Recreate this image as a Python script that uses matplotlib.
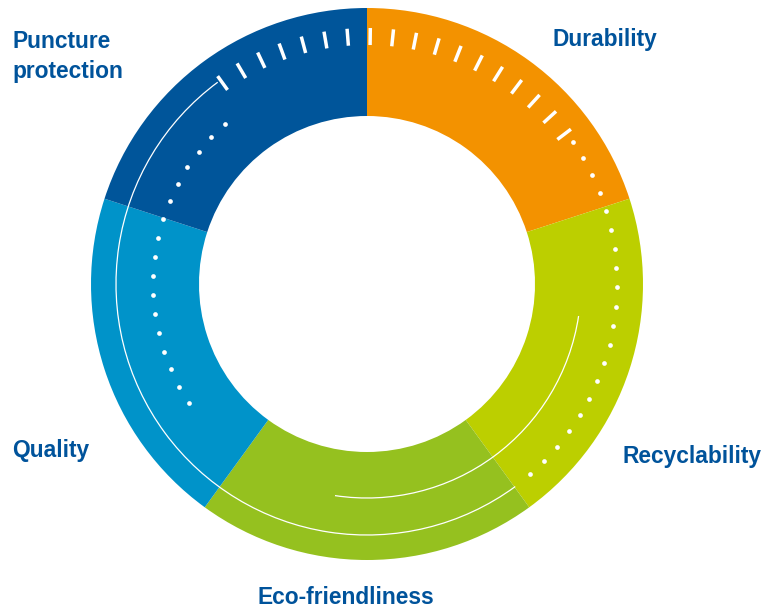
import numpy as np
import matplotlib.pyplot as plt
from matplotlib.patches import Arc

# categories in clockwise order starting at 12 o'clock
categories = ['Durability', 'Recyclability', 'Eco-friendliness', 'Quality', 'Puncture protection']
shares = [1, 1, 1, 1, 1]
seg_colors = ['#F39200', '#BCCF00', '#95C11F', '#0093C9', '#00559A']

TEXT_COLOR = '#00539B'
W, H = 769, 608
CX, CY = 367, H - 284          # ring centre in pixel units (y up)
R_OUT, R_IN = 276, 168

fig = plt.figure(figsize=(W / 100, H / 100), dpi=100)
ax = fig.add_axes([0, 0, 1, 1])

ax.pie(shares, colors=seg_colors, startangle=90, counterclock=False,
       center=(CX, CY), radius=R_OUT,
       wedgeprops=dict(width=R_OUT - R_IN, linewidth=0, antialiased=True))
ax.set_xlim(0, W)
ax.set_ylim(0, H)
ax.set_aspect('equal')
ax.axis('off')


def polar(r, deg):
    t = np.radians(deg)
    return CX + r * np.cos(t), CY + r * np.sin(t)


# white tick marks across the top
for a in np.linspace(125.7, 37.2, 18):
    x0, y0 = polar(239, a)
    x1, y1 = polar(256, a)
    ax.plot([x0, x1], [y0, y1], color='white', lw=2.5, solid_capstyle='butt', zorder=3)

# outer dotted track on the right
xs, ys = polar(250, np.linspace(34.6, -49.4, 20))
ax.plot(xs, ys, 'o', color='white', ms=3.4, mew=0, zorder=3)

# inner dotted track on the left
xs, ys = polar(214, np.linspace(131.6, 213.8, 17))
ax.plot(xs, ys, 'o', color='white', ms=3.4, mew=0, zorder=3)

# thin white arcs
ax.add_patch(Arc((CX, CY), 2 * 251, 2 * 251, theta1=126.5, theta2=306.2,
                 color='white', lw=0.9, zorder=3))
ax.add_patch(Arc((CX, CY), 2 * 214, 2 * 214, theta1=261.4, theta2=351.4,
                 color='white', lw=0.9, zorder=3))

# labels: (x, baseline y from top, horizontal alignment)
label_pos = {
    'Durability': (552, 46, 'left'),
    'Recyclability': (622, 463, 'left'),
    'Eco-friendliness': (346, 604, 'center'),
    'Quality': (12, 457, 'left'),
    'Puncture protection': (12, 78.3, 'left'),
}
for name in categories:
    x, y, ha = label_pos[name]
    ax.text(x, H - y, name.replace(' ', '\n'), ha=ha, va='baseline',
            fontsize=16.4, fontweight='bold', color=TEXT_COLOR,
            family=['Liberation Sans', 'DejaVu Sans'], linespacing=1.42)

fig.savefig('out.png', dpi=100)
